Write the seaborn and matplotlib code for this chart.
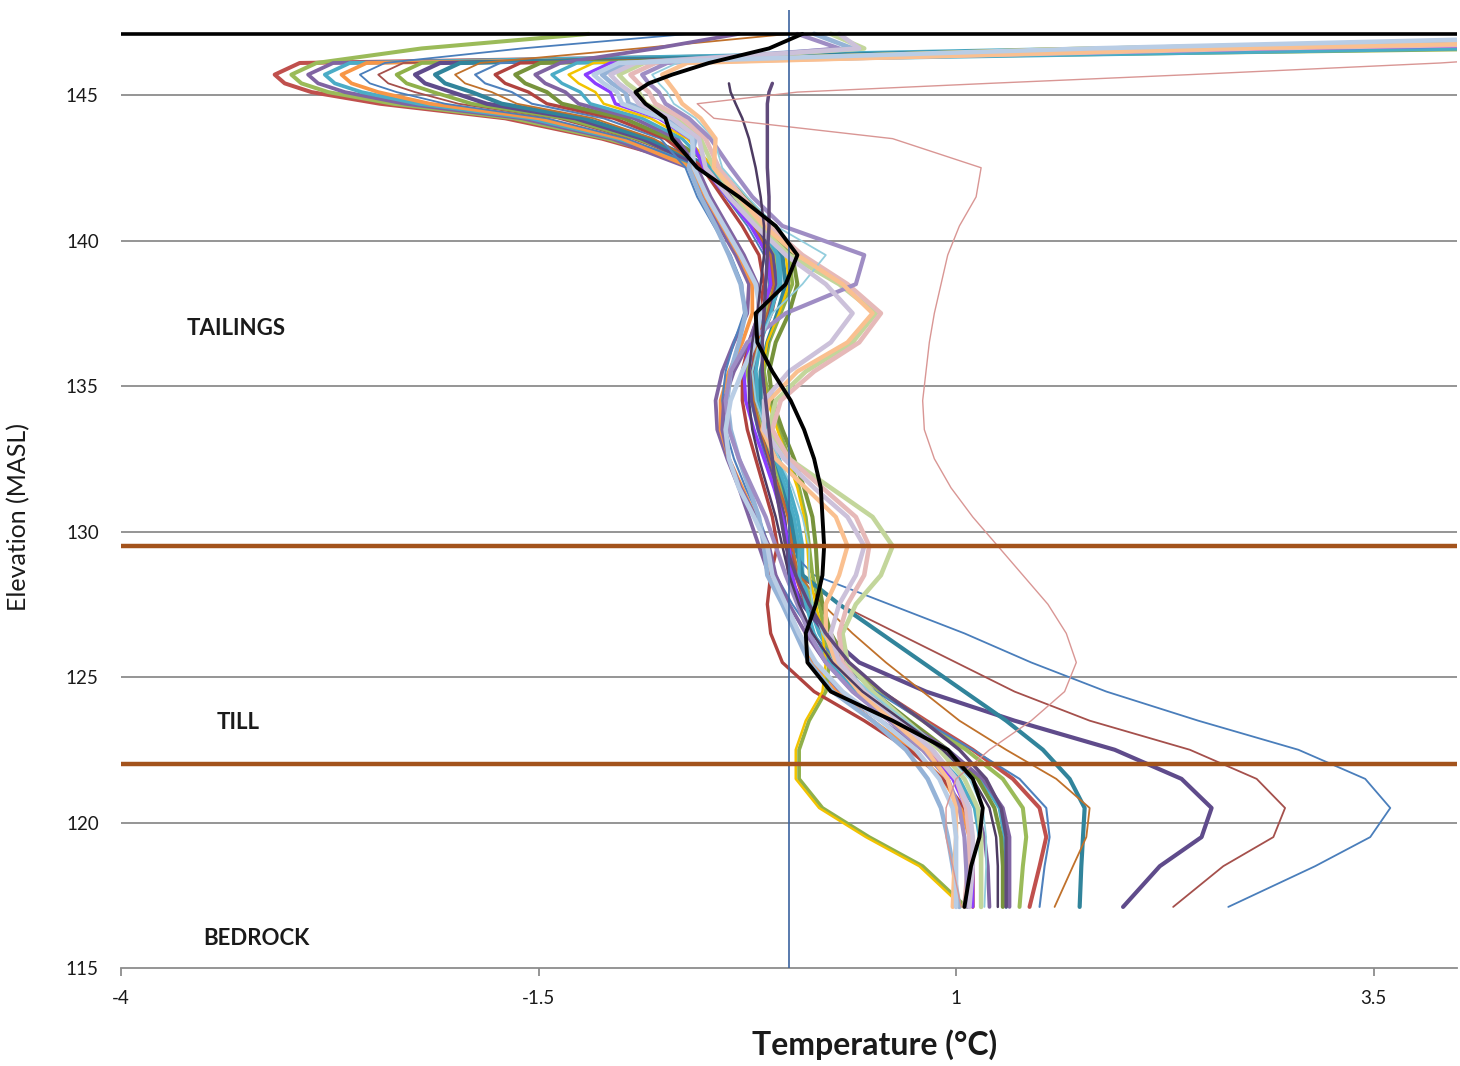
import numpy as np
import pandas as pd
import seaborn as sns
import matplotlib
matplotlib.use('Agg')
import matplotlib.pyplot as plt

# elevation of every reading (m above sea level), same for all profiles
elev = [147.1, 146.6, 146.1, 145.7, 145.4, 145.1, 144.7, 144.2, 143.5,
        142.5, 141.5, 140.5, 139.5, 138.5, 137.5,
        136.5, 135.5, 134.5, 133.5, 132.5, 131.5, 130.5, 129.5,
        128.5, 127.5, 126.5, 125.5, 124.5, 123.5, 122.5, 121.5, 120.5, 119.5, 118.5, 117.1]

# temperature profiles (deg C), one list per reading date
p01 = [7.5, 2.6, -2.93, -3.08, -3.02, -2.86, -2.45, -1.70, -1.12,
       -0.50, -0.36, -0.22, -0.12, -0.10, -0.14, -0.20, -0.22, -0.20, -0.15, -0.10, -0.05, 0.00, 0.02,
       0.04, 0.10, 0.20, 0.34, 0.55, 0.82, 1.10, 1.34, 1.50, 1.54, 1.50, 1.44]
p02 = [-1.2, -2.2, -2.83, -2.98, -2.92, -2.76, -2.37, -1.65, -1.09,
       -0.48, -0.33, -0.18, -0.08, -0.08, -0.15, -0.22, -0.25, -0.22, -0.16, -0.10, -0.04, 0.02, 0.06,
       0.08, 0.14, 0.22, 0.35, 0.55, 0.80, 1.06, 1.28, 1.40, 1.42, 1.40, 1.38]
p03 = [8.5, 3.2, -2.73, -2.88, -2.82, -2.66, -2.30, -1.60, -1.06,
       -0.60, -0.52, -0.42, -0.32, -0.24, -0.25, -0.33, -0.40, -0.44, -0.43, -0.37, -0.30, -0.24, -0.18,
       -0.12, -0.02, 0.06, 0.15, 0.30, 0.55, 0.80, 1.00, 1.12, 1.17, 1.19, 1.20]
p04 = [6.0, 1.8, -2.63, -2.78, -2.72, -2.56, -2.22, -1.55, -1.03,
       -0.45, -0.30, -0.15, -0.05, -0.05, -0.12, -0.18, -0.20, -0.17, -0.12, -0.06, 0.00, 0.05, 0.08,
       0.08, 0.12, 0.18, 0.28, 0.46, 0.70, 0.95, 1.15, 1.26, 1.29, 1.30, 1.30]
p05 = [9.0, 3.8, -2.53, -2.68, -2.62, -2.46, -2.15, -1.50, -1.00,
       -0.58, -0.50, -0.40, -0.30, -0.22, -0.22, -0.28, -0.36, -0.41, -0.41, -0.36, -0.28, -0.20, -0.14,
       -0.10, -0.02, 0.05, 0.13, 0.28, 0.50, 0.74, 0.92, 1.03, 1.08, 1.10, 1.10]
p06 = [-0.6, -1.6, -2.42, -2.57, -2.51, -2.35, -2.06, -1.45, -0.97,
       -0.52, -0.38, -0.25, -0.15, -0.12, -0.15, -0.21, -0.24, -0.23, -0.19, -0.14, -0.09, -0.04, -0.02,
       0.15, 0.60, 1.05, 1.45, 1.90, 2.45, 3.05, 3.45, 3.60, 3.48, 3.15, 2.63]
p07 = [7.0, 2.3, -2.31, -2.46, -2.40, -2.24, -1.98, -1.39, -0.94,
       -0.47, -0.34, -0.20, -0.10, -0.06, -0.10, -0.17, -0.21, -0.21, -0.18, -0.13, -0.08, -0.03, 0.00,
       0.05, 0.30, 0.65, 1.00, 1.35, 1.80, 2.40, 2.80, 2.97, 2.90, 2.60, 2.30]
p08 = [10.0, 4.5, -2.20, -2.35, -2.29, -2.13, -1.90, -1.34, -0.91,
       -0.44, -0.28, -0.12, 0.00, 0.02, -0.05, -0.12, -0.15, -0.12, -0.06, 0.00, 0.06, 0.10, 0.12,
       0.14, 0.18, 0.22, 0.24, 0.22, 0.12, 0.06, 0.06, 0.20, 0.48, 0.80, 1.06]
p09 = [6.5, 2.9, -2.09, -2.24, -2.18, -2.02, -1.81, -1.28, -0.88,
       -0.50, -0.35, -0.20, -0.10, -0.08, -0.12, -0.18, -0.22, -0.22, -0.18, -0.12, -0.07, -0.03, -0.01,
       0.00, 0.08, 0.22, 0.42, 0.82, 1.35, 1.95, 2.35, 2.53, 2.47, 2.22, 2.00]
p10 = [8.0, 2.0, -1.97, -2.12, -2.06, -1.90, -1.72, -1.23, -0.84,
       -0.46, -0.30, -0.15, -0.04, -0.02, -0.07, -0.13, -0.17, -0.17, -0.13, -0.08, -0.03, 0.01, 0.04,
       0.08, 0.30, 0.55, 0.80, 1.05, 1.30, 1.52, 1.68, 1.77, 1.76, 1.75, 1.74]
p11 = [0.0, -0.9, -1.85, -2.00, -1.94, -1.78, -1.63, -1.17, -0.81,
       -0.49, -0.35, -0.21, -0.11, -0.09, -0.13, -0.19, -0.22, -0.21, -0.17, -0.12, -0.06, -0.01, 0.02,
       0.06, 0.20, 0.38, 0.58, 0.80, 1.02, 1.30, 1.60, 1.80, 1.78, 1.70, 1.59]
p12 = [9.5, 4.0, -1.73, -1.88, -1.82, -1.66, -1.54, -1.11, -0.77,
       -0.62, -0.55, -0.45, -0.35, -0.28, -0.27, -0.33, -0.38, -0.40, -0.38, -0.33, -0.26, -0.18, -0.12,
       -0.08, 0.02, 0.14, 0.30, 0.52, 0.80, 1.10, 1.38, 1.54, 1.56, 1.53, 1.50]
p13 = [6.8, 2.5, -1.61, -1.76, -1.70, -1.56, -1.45, -1.05, -0.74,
       -0.52, -0.40, -0.28, -0.18, -0.15, -0.18, -0.24, -0.28, -0.28, -0.25, -0.20, -0.15, -0.10, -0.07,
       -0.11, -0.13, -0.11, -0.04, 0.15, 0.45, 0.72, 0.92, 1.05, 1.10, 1.10, 1.10]
p14 = [7.8, 3.4, -1.49, -1.64, -1.58, -1.45, -1.36, -0.99, -0.71,
       -0.43, -0.27, -0.10, 0.02, 0.05, 0.00, -0.08, -0.12, -0.10, -0.04, 0.03, 0.09, 0.14, 0.16,
       0.17, 0.20, 0.25, 0.35, 0.50, 0.72, 0.95, 1.13, 1.23, 1.27, 1.28, 1.28]
p15 = [-0.3, -0.8, -1.37, -1.52, -1.46, -1.34, -1.26, -0.93, -0.67,
       -0.55, -0.47, -0.37, -0.27, -0.19, -0.18, -0.24, -0.33, -0.39, -0.40, -0.36, -0.29, -0.20, -0.12,
       -0.08, 0.00, 0.10, 0.22, 0.42, 0.68, 0.95, 1.16, 1.28, 1.32, 1.32, 1.32]
p16 = [8.8, 4.2, -1.27, -1.42, -1.36, -1.25, -1.19, -0.88, -0.64,
       -0.47, -0.32, -0.17, -0.07, -0.06, -0.11, -0.17, -0.20, -0.19, -0.14, -0.08, -0.02, 0.03, 0.06,
       0.06, 0.10, 0.15, 0.24, 0.40, 0.62, 0.85, 1.02, 1.11, 1.14, 1.15, 1.15]
p17 = [6.2, 1.6, -1.17, -1.32, -1.26, -1.16, -1.11, -0.83, -0.61,
       -0.45, -0.30, -0.14, -0.02, 0.00, -0.06, -0.13, -0.16, -0.13, -0.07, -0.01, 0.05, 0.09, 0.11,
       0.12, 0.16, 0.20, 0.22, 0.20, 0.10, 0.04, 0.04, 0.18, 0.46, 0.78, 1.04]
p18 = [9.2, 3.0, -1.07, -1.22, -1.16, -1.07, -1.04, -0.78, -0.59,
       -0.51, -0.37, -0.23, -0.13, -0.11, -0.16, -0.23, -0.27, -0.26, -0.21, -0.15, -0.09, -0.04, 0.00,
       0.02, 0.06, 0.12, 0.22, 0.38, 0.60, 0.82, 0.98, 1.06, 1.09, 1.10, 1.10]
p19 = [0.15, 0.38, -0.97, -1.12, -1.06, -0.98, -0.96, -0.73, -0.56,
       -0.60, -0.53, -0.44, -0.36, -0.29, -0.26, -0.30, -0.35, -0.37, -0.35, -0.30, -0.24, -0.18, -0.15,
       -0.13, -0.04, 0.04, 0.12, 0.26, 0.50, 0.70, 0.83, 0.91, 0.95, 0.98, 1.02]
p20 = [0.25, 0.45, -0.87, -1.02, -0.97, -0.90, -0.86, -0.68, -0.53,
       -0.45, -0.32, -0.18, 0.00, 0.30, 0.52, 0.38, 0.10, -0.08, -0.12, 0.00, 0.25, 0.50, 0.62,
       0.55, 0.40, 0.32, 0.35, 0.50, 0.70, 0.90, 1.05, 1.13, 1.15, 1.15, 1.15]
p21 = [8.0, 2.8, -0.80, -0.95, -0.90, -0.84, -0.80, -0.64, -0.50,
       -0.42, -0.28, -0.12, 0.08, 0.35, 0.55, 0.42, 0.15, -0.05, -0.10, 0.00, 0.20, 0.40, 0.48,
       0.45, 0.35, 0.30, 0.32, 0.45, 0.65, 0.85, 1.00, 1.06, 1.08, 1.07, 1.05]
p22 = [0.05, 0.30, -0.73, -0.88, -0.84, -0.78, -0.74, -0.60, -0.47,
       -0.35, -0.22, -0.04, 0.45, 0.40, -0.02, -0.25, -0.35, -0.38, -0.36, -0.30, -0.22, -0.14, -0.08,
       -0.02, 0.05, 0.12, 0.22, 0.38, 0.60, 0.80, 0.95, 1.02, 1.05, 1.06, 1.07]
p23 = [6.0, 2.0, -0.67, -0.82, -0.78, -0.73, -0.69, -0.56, -0.45,
       -0.40, -0.25, -0.08, 0.22, 0.08, -0.10, -0.18, -0.22, -0.20, -0.14, -0.06, 0.02, 0.08, 0.12,
       0.12, 0.14, 0.20, 0.30, 0.48, 0.70, 0.92, 1.08, 1.16, 1.18, 1.18, 1.17]
p24 = [7.2, 2.6, -0.61, -0.76, -0.72, -0.68, -0.64, -0.53, -0.44,
       -0.45, -0.30, -0.15, 0.05, 0.32, 0.50, 0.35, 0.05, -0.12, -0.16, -0.08, 0.10, 0.28, 0.35,
       0.30, 0.22, 0.22, 0.28, 0.42, 0.62, 0.82, 0.95, 1.00, 1.00, 0.99, 0.98]
p25 = [0.30, 0.42, -0.92, -1.07, -1.02, -0.95, -0.90, -0.70, -0.54,
       -0.50, -0.36, -0.20, -0.02, 0.22, 0.38, 0.25, 0.00, -0.15, -0.15, -0.03, 0.15, 0.35, 0.45,
       0.40, 0.30, 0.25, 0.30, 0.45, 0.66, 0.86, 1.00, 1.08, 1.10, 1.10, 1.08]
p26 = [5.5, 1.8, -1.02, -1.17, -1.11, -1.03, -1.00, -0.76, -0.58,
       -0.57, -0.49, -0.39, -0.29, -0.20, -0.17, -0.20, -0.28, -0.35, -0.38, -0.36, -0.30, -0.21, -0.13,
       -0.10, -0.02, 0.06, 0.16, 0.32, 0.55, 0.76, 0.90, 0.98, 1.00, 1.00, 1.00]
p27 = [np.nan, np.nan, np.nan, np.nan, -0.10, -0.12, -0.13, -0.13, -0.13,
       -0.13, -0.12, -0.12, -0.13, -0.14, -0.15, -0.16, -0.16, -0.14, -0.12, -0.10, -0.08, -0.05, -0.02,
       0.04, 0.12, 0.22, 0.36, 0.56, 0.80, 1.02, 1.18, 1.27, 1.30, 1.30, 1.30]
p28 = [np.nan, np.nan, np.nan, np.nan, -0.36, -0.35, -0.32, -0.28, -0.24,
       -0.20, -0.17, -0.15, -0.15, -0.17, -0.19, -0.22, -0.24, -0.24, -0.22, -0.18, -0.13, -0.08, -0.04,
       0.00, 0.06, 0.14, 0.26, 0.44, 0.68, 0.92, 1.10, 1.20, 1.24, 1.25, 1.25]
p29 = [7.0, 5.2, 3.9, 2.4, 1.2, 0.05, -0.55, -0.45, 0.62,
       1.15, 1.12, 1.02, 0.95, 0.91, 0.87, 0.84, 0.82, 0.80, 0.81, 0.87, 0.97, 1.10, 1.25,
       1.40, 1.55, 1.66, 1.72, 1.65, 1.45, 1.20, 1.00, 0.94, 0.94, 0.98, 1.03]
# average profile (black)
mean_profile = [0.08, -0.12, -0.48, -0.70, -0.84, -0.92, -0.86, -0.74, -0.70,
                -0.55, -0.30, -0.08, 0.05, -0.02, -0.20, -0.19, -0.10, 0.01, 0.09, 0.15, 0.19, 0.20, 0.21,
                0.20, 0.16, 0.10, 0.11, 0.25, 0.62, 0.95, 1.10, 1.16, 1.14, 1.09, 1.05]

profiles = [p01, p02, p03, p04, p05, p06, p07, p08, p09, p10, p11, p12, p13, p14, p15,
            p16, p17, p18, p19, p20, p21, p22, p23, p24, p25, p26, p27, p28, p29]
colors = ['#C0504D', '#9BBB59', '#8064A2', '#4BACC6', '#F79646', '#4A7EBB', '#A5504C',
          '#8FB04A', '#5F4B8B', '#31849B', '#C0712B', '#4F81BD', '#B0433F', '#77933C',
          '#8064A2', '#4BACC6', '#F2C300', '#8B3DFF', '#95B3D7', '#C3D69B', '#E6B9B8',
          '#9F8DC4', '#93CDDD', '#FAC090', '#CCC1DA', '#B9CDE5', '#604A7B', '#4D3B62', '#D99694']
widths = [2.9, 2.9, 2.7, 2.7, 2.7, 1.3, 1.3, 2.7, 3.0, 3.0, 1.3, 1.5, 2.4, 2.9, 2.7,
          2.4, 1.8, 2.4, 3.3, 3.3, 3.3, 3.0, 1.3, 3.1, 3.3, 3.3, 2.5, 1.8, 1.0]

x_ticks = [-4, -1.5, 1, 3.5]
y_ticks = [115, 120, 125, 130, 135, 140, 145]
layer_tops = [129.5, 122.0]
surface = 147.1

names = ['P%02d' % (i + 1) for i in range(len(profiles))]
frames = []
for name, vals in zip(names, profiles):
    frames.append(pd.DataFrame({'elev': elev, 'temp': vals, 'profile': name}))
df = pd.concat(frames, ignore_index=True).dropna()
mean_df = pd.DataFrame({'elev': elev, 'temp': mean_profile})

sns.set_theme(style='white')
plt.rcParams['font.family'] = ['Lato', 'DejaVu Sans']
plt.rcParams['lines.solid_joinstyle'] = 'round'
plt.rcParams['lines.solid_capstyle'] = 'round'

fig = plt.figure(figsize=(14.6, 10.66), dpi=100)
ax = fig.add_axes([0.0829, 0.0919, 0.9151, 0.8987])

# grid lines
for y in y_ticks[1:]:
    ax.axhline(y, color='#8C8C8C', lw=1.3, zorder=1)

sns.lineplot(data=df, x='temp', y='elev', hue='profile', size='profile',
             hue_order=names, size_order=names,
             palette=dict(zip(names, colors)), sizes=dict(zip(names, widths)),
             sort=False, estimator=None, legend=False, ax=ax, zorder=3)
sns.lineplot(data=mean_df, x='temp', y='elev', sort=False, estimator=None,
             color='black', lw=2.8, ax=ax, zorder=6)

ax.axvline(0, color='#3C64A0', lw=1.2, zorder=5)
for y in layer_tops:
    ax.axhline(y, color='#A3531C', lw=3.2, zorder=7)
ax.axhline(surface, color='black', lw=2.6, zorder=7)

ax.text(-3.31, 136.99, 'TAILINGS', fontsize=16, fontweight='bold', color='#1a1a1a', ha='center', va='center')
ax.text(-3.30, 123.45, 'TILL', fontsize=16, fontweight='bold', color='#1a1a1a', ha='center', va='center')
ax.text(-3.19, 116.03, 'BEDROCK', fontsize=16, fontweight='bold', color='#1a1a1a', ha='center', va='center')

ax.set_xlim(-4, 4)
ax.set_ylim(115, 147.92)
ax.set_xticks(x_ticks)
ax.set_xticklabels(['-4', '-1.5', '1', '3.5'])
ax.set_yticks(y_ticks)
ax.set_xlabel('')
ax.set_ylabel('')
for s in ['top', 'right', 'left']:
    ax.spines[s].set_visible(False)
ax.spines['bottom'].set_color('#8C8C8C')
ax.spines['bottom'].set_linewidth(1.3)
ax.tick_params(axis='x', bottom=True, length=6, width=1.3, color='#8C8C8C',
               labelsize=13.5, labelcolor='#1a1a1a', pad=10)
ax.tick_params(axis='y', left=False, length=0, labelsize=13.5, labelcolor='#1a1a1a', pad=16)

fig.text(0.599, 0.020, 'Temperature (°C)', fontsize=23, fontweight='bold',
         color='#1a1a1a', ha='center', va='center')
fig.text(0.0125, 0.515, 'Elevation (MASL)', fontsize=18, rotation=90,
         color='#1a1a1a', ha='center', va='center')

fig.savefig('out.png', dpi=100)
